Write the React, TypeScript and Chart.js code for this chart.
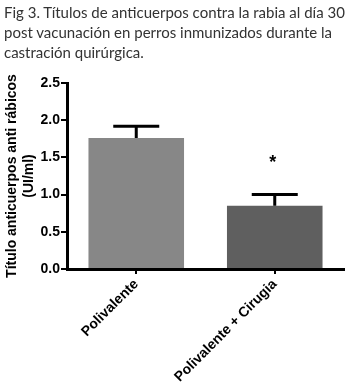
import React, { useEffect, useRef } from "react";
import { Chart, registerables } from "chart.js";

Chart.register(...registerables);

const categories = ["Polivalente", "Polivalente + Cirugia"];
const means = [1.76, 0.85];
const errorTops = [1.92, 1.0];
const barColors = ["#878787", "#5f5f5f"];
const significance = ["", "*"];
const yTicks = [0, 0.5, 1.0, 1.5, 2.0, 2.5];
const titleLines = [
  "Fig 3. Títulos de anticuerpos contra la rabia al día 30",
  "post vacunación en perros inmunizados durante la",
  "castración quirúrgica.",
];
const yTitle = ["Título anticuerpos anti rábicos", "(UI/ml)"];

const errorBarPlugin = {
  id: "errorBars",
  afterDatasetsDraw(chart: any) {
    const ctx = chart.ctx;
    const x = chart.scales.x;
    const y = chart.scales.y;
    ctx.save();
    ctx.strokeStyle = "#000";
    ctx.lineWidth = 3;
    errorTops.forEach((top, i) => {
      const cx = x.getPixelForValue(i);
      const yTop = y.getPixelForValue(top);
      const yMean = y.getPixelForValue(means[i]);
      ctx.beginPath();
      ctx.moveTo(cx, yMean);
      ctx.lineTo(cx, yTop);
      ctx.moveTo(cx - 23, yTop);
      ctx.lineTo(cx + 23, yTop);
      ctx.stroke();
      if (significance[i]) {
        ctx.fillStyle = "#000";
        ctx.font = "bold 18px 'Liberation Sans', Arial, sans-serif";
        ctx.textAlign = "center";
        ctx.textBaseline = "middle";
        ctx.fillText(significance[i], cx - 2, y.getPixelForValue(top + 0.43));
      }
    });
    ctx.restore();
  },
};

export default function App() {
  const ref = useRef<HTMLCanvasElement>(null);
  useEffect(() => {
    document.body.style.margin = "0";
    const font = { family: "'Liberation Sans', Arial, sans-serif", size: 14, weight: "bold" as const };
    const chart = new Chart(ref.current!, {
      type: "bar",
      data: {
        labels: categories,
        datasets: [
          {
            data: means,
            backgroundColor: barColors,
            borderWidth: 0,
            categoryPercentage: 1,
            barPercentage: 0.69,
          },
        ],
      },
      options: {
        animation: false,
        responsive: false,
        layout: { padding: { top: 83, right: 11, left: 4, bottom: 0 } },
        plugins: { legend: { display: false }, tooltip: { enabled: false } },
        scales: {
          x: {
            offset: true,
            grid: { display: true, drawOnChartArea: false, offset: false, color: "#000", lineWidth: 2, tickLength: 5 },
            border: { color: "#000", width: 3 },
            ticks: { color: "#000", font, minRotation: 45, maxRotation: 45, padding: 2 },
            afterFit(scale: any) {
              scale.height = 117;
            },
          },
          y: {
            min: 0,
            max: 2.5,
            afterBuildTicks(scale: any) {
              scale.ticks = yTicks.map((v) => ({ value: v }));
            },
            grid: { display: true, drawOnChartArea: false, color: "#000", lineWidth: 2, tickLength: 6 },
            border: { color: "#000", width: 3 },
            ticks: {
              color: "#000",
              font,
              padding: 1,
              callback: (v: any) => Number(v).toFixed(1),
            },
            title: {
              display: true,
              text: yTitle,
              color: "#000",
              font,
              padding: 0,
            },
            afterFit(scale: any) {
              scale.width = 63;
            },
          },
        },
      },
      plugins: [errorBarPlugin],
    });
    return () => chart.destroy();
  }, []);
  return (
    <div style={{ position: "relative", width: 355, height: 386, background: "#fff" }}>
      <canvas ref={ref} width={355} height={386} style={{ position: "absolute", left: 0, top: 0 }} />
      <div
        style={{
          position: "absolute",
          left: 4,
          top: 2,
          fontFamily: "Lato, 'Open Sans', sans-serif",
          fontSize: 15,
          lineHeight: "20px",
          color: "#333",
          whiteSpace: "nowrap",
        }}
      >
        {titleLines.map((l, i) => (
          <div key={i}>{l}</div>
        ))}
      </div>
    </div>
  );
}
